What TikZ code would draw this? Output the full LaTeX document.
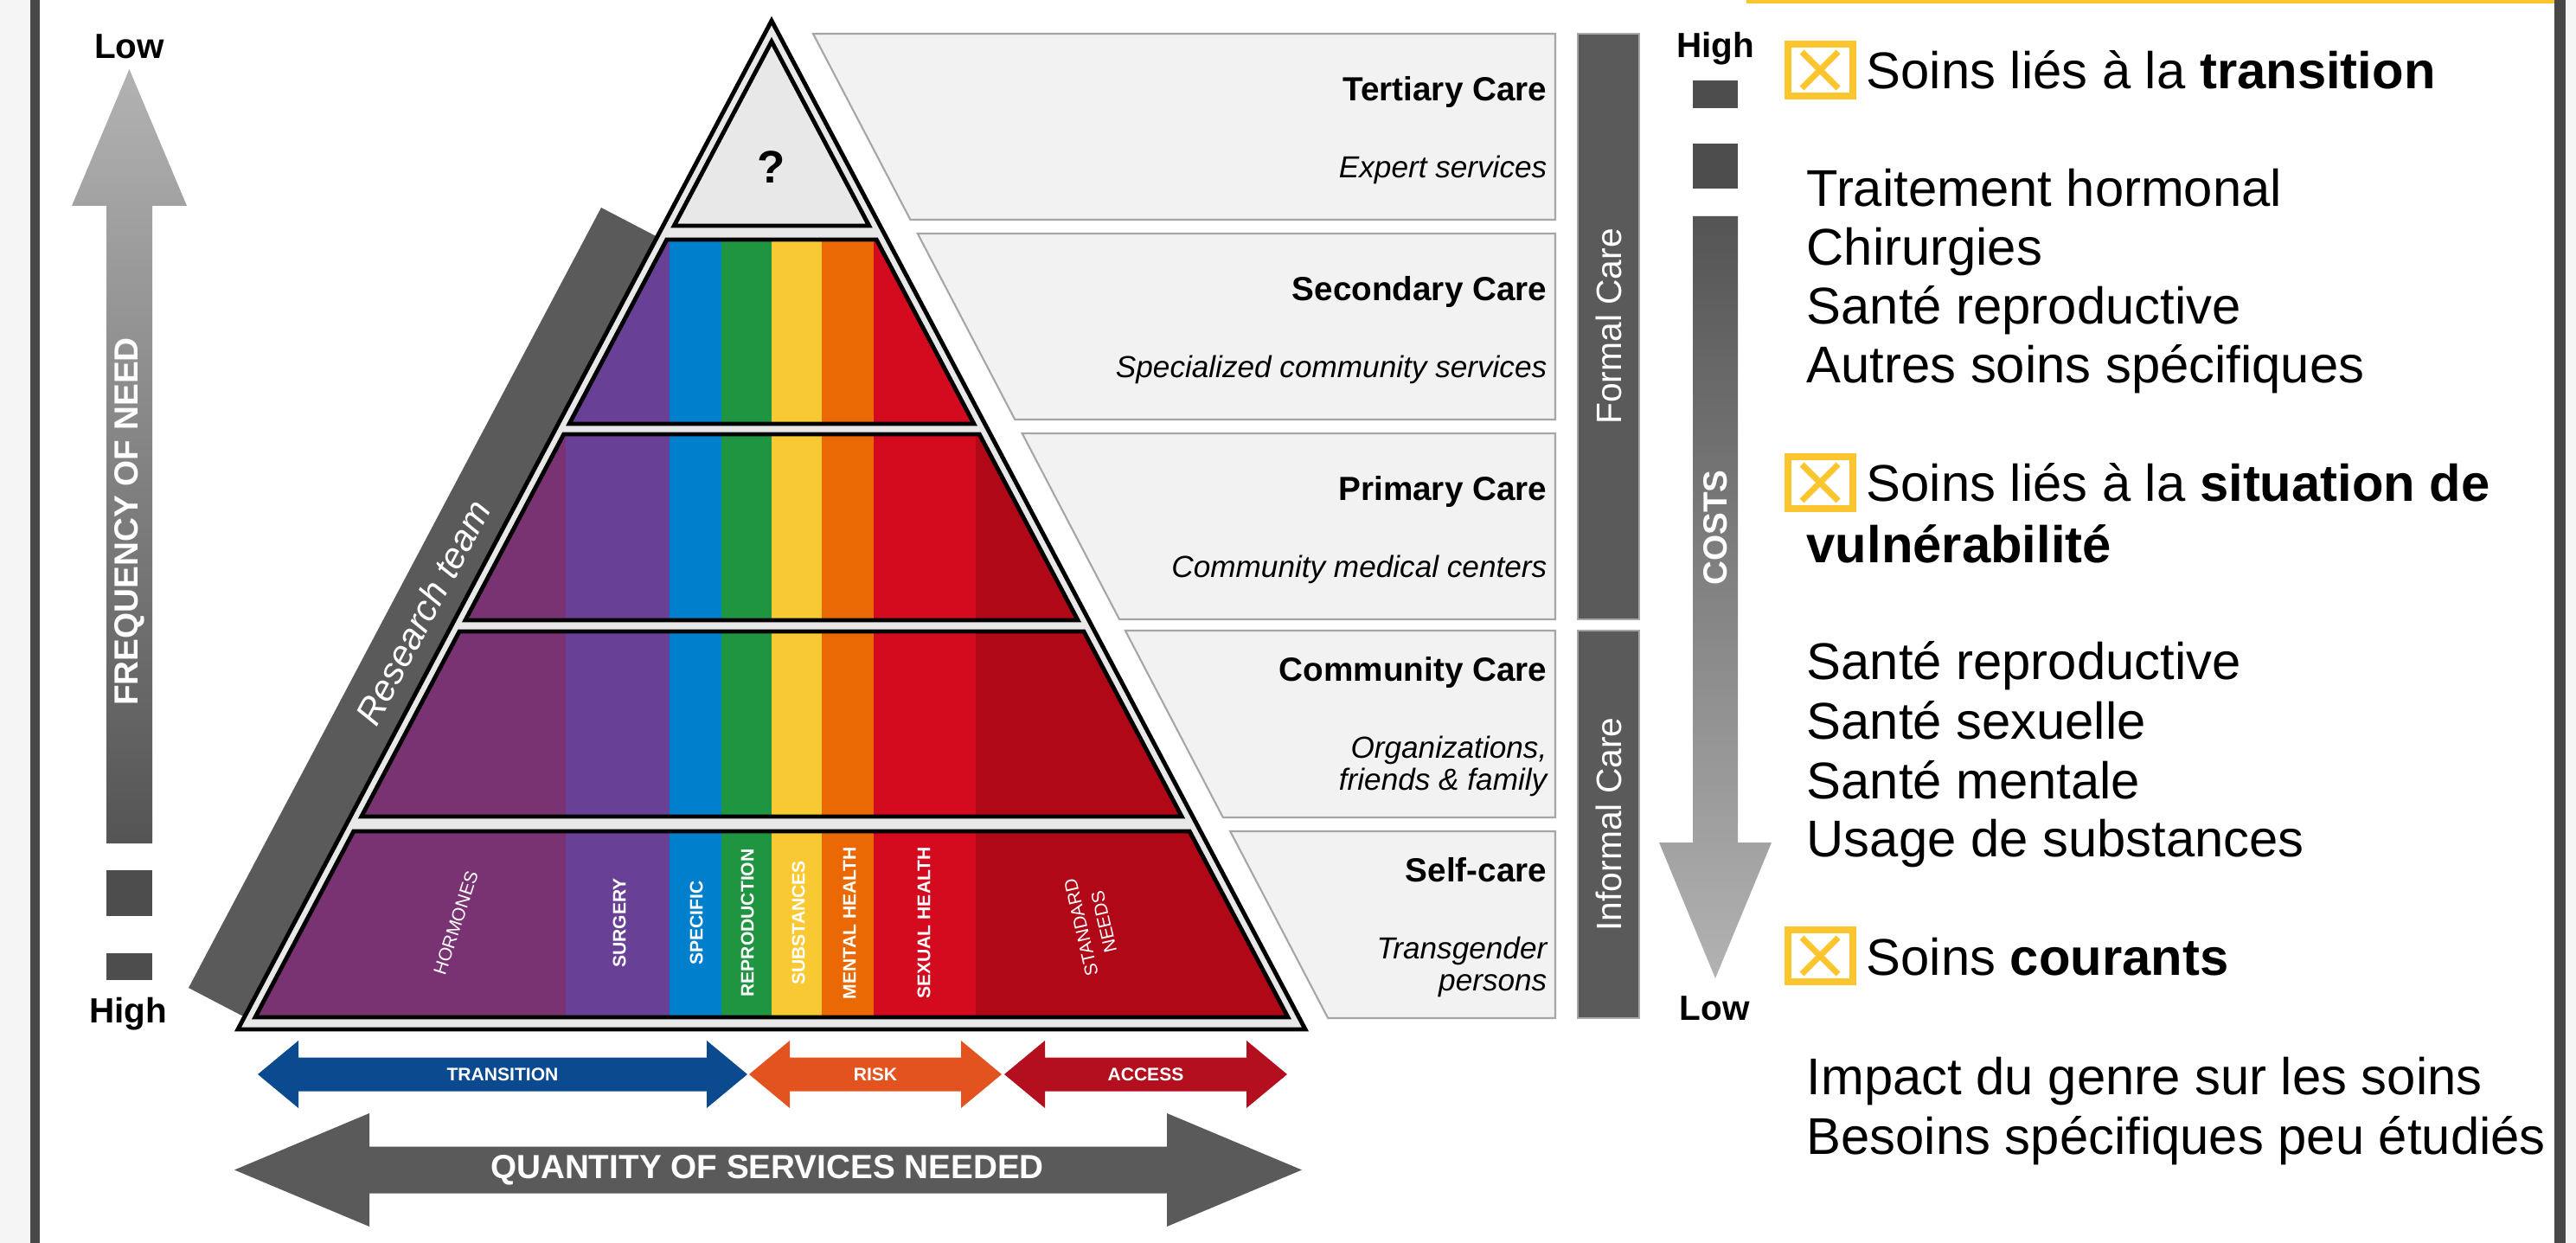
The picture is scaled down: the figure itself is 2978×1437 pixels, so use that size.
\documentclass[tikz,border=0pt]{standalone}
\usepackage{fontspec}
\setmainfont{Liberation Sans}
\usepackage{xcolor}
\usepackage{tikz}
\usetikzlibrary{positioning}

\definecolor{hormcol}{HTML}{7A3372}
\definecolor{surgcol}{HTML}{684096}
\definecolor{specol}{HTML}{0080CC}
\definecolor{repcol}{HTML}{1F9441}
\definecolor{subcol}{HTML}{F9C933}
\definecolor{mentcol}{HTML}{EB6904}
\definecolor{sexcol}{HTML}{D40A1F}
\definecolor{stdcol}{HTML}{B10818}
\definecolor{pyrgray}{HTML}{E8E8E8}
\definecolor{boxgray}{HTML}{F2F2F2}
\definecolor{boxline}{HTML}{A6A6A6}
\definecolor{bargray}{HTML}{5A5A5A}
\definecolor{dashgray}{HTML}{4D4D4D}
\definecolor{framegray}{HTML}{484848}
\definecolor{sidegray}{HTML}{F5F5F5}
\definecolor{transcol}{HTML}{0B4A8E}
\definecolor{riskcol}{HTML}{E2531F}
\definecolor{accesscol}{HTML}{B30F1F}
\definecolor{tickyellow}{HTML}{FBC52F}

\newcommand{\crossbox}[1]{%
  \draw[tickyellow, line width=2.3pt] (2067,#1-52) rectangle (2142,#1+8);
  \draw[tickyellow, line width=2pt] (2083,#1-43) -- (2125,#1-1) (2083,#1-1) -- (2125,#1-43);
}

\begin{document}
\begin{tikzpicture}[x=0.01cm, y=-0.01cm,
    band/.style={draw=black, line width=1.4pt},
    carebox/.style={fill=boxgray, draw=boxline, line width=0.6pt},
    caretitle/.style={anchor=base east, inner sep=0pt, font=\fontsize{11}{13}\selectfont\bfseries},
    caresub/.style={anchor=east, inner sep=0pt, align=right, font=\fontsize{10}{10.7}\selectfont\itshape},
    sidelabel/.style={text=white, rotate=90, font=\fontsize{11.6}{14}\selectfont},
    scalelabel/.style={anchor=base, font=\fontsize{11.5}{14}\selectfont\bfseries},
    axislabel/.style={text=white, rotate=90, font=\fontsize{11}{13}\selectfont\bfseries},
    collabel/.style={text=white, rotate=90, font=\fontsize{6}{7.7}\selectfont\bfseries},
    arrowlabel/.style={text=white, font=\fontsize{6}{7}\selectfont\bfseries},
    panel/.style={anchor=base west, inner sep=0pt, font=\fontsize{17}{19.5}\selectfont}]

  \useasboundingbox (0,0) rectangle (2978,1437);
  \fill[white] (0,0) rectangle (2978,1437);
  \fill[sidegray] (0,0) rectangle (35,1437);
  \fill[framegray] (35,0) rectangle (46,1437);
  \fill[framegray] (2953,0) rectangle (2966,1437);
  \fill[sidegray] (2966,0) rectangle (2978,1437);
  \fill[tickyellow] (2019,0) rectangle (2953,4);

  % research team
  \fill[bargray] (695,240) -- (764,276) -- (287,1178) -- (218,1142) -- cycle;
  \node[text=white, rotate=62.1, font=\fontsize{12}{14}\selectfont\itshape] (team) at (488.8,707.8) {Research team};

  % pyramid
  \draw[band, fill=pyrgray] (892,24) -- (1509,1190) -- (275,1190) -- cycle;
  \draw[band, fill=pyrgray] (892,48) -- (1004.7,261) -- (779.3,261) -- cycle;
  \node[font=\fontsize{15}{18}\selectfont\bfseries] (top) at (892,193) {?};
  \foreach \yt/\yb in {277/490, 502/717, 730/944, 961/1176} {
    \begin{scope}
      \clip ({892-0.5292*(\yt-48)},\yt) -- ({892+0.5292*(\yt-48)},\yt) -- ({892+0.5292*(\yb-48)},\yb) -- ({892-0.5292*(\yb-48)},\yb) -- cycle;
      \foreach \xa/\xb/\col in {250/654/hormcol, 654/774/surgcol, 774/834/specol, 834/892/repcol, 892/950/subcol, 950/1010/mentcol, 1010/1128/sexcol, 1128/1550/stdcol}
        \fill[\col] (\xa,\yt) rectangle (\xb,\yb);
    \end{scope}
    \draw[band] ({892-0.5292*(\yt-48)},\yt) -- ({892+0.5292*(\yt-48)},\yt) -- ({892+0.5292*(\yb-48)},\yb) -- ({892-0.5292*(\yb-48)},\yb) -- cycle;
  }
  \node[collabel, rotate=-18, font=\fontsize{6}{7.7}\selectfont] (hor) at (527,1067) {HORMONES};
  \foreach \x/\lbl/\nm in {716/SURGERY/sur, 805/SPECIFIC/spe, 864/REPRODUCTION/rep, 923/SUBSTANCES/sub, 982/MENTAL HEALTH/men, 1068/SEXUAL HEALTH/sex}
    \node[collabel] (\nm) at (\x,1067) {\lbl};
  \node[collabel, rotate=13, align=center, font=\fontsize{6}{7.7}\selectfont] (std) at (1263,1069) {STANDARD\\NEEDS};

  % care levels
  \foreach \yt/\yb/\tb/\ti/\su [count=\i] in {
      39/254/78/Tertiary Care/Expert services,
      270/485/78/Secondary Care/Specialized community services,
      501/716/78/Primary Care/Community medical centers,
      729/945/59/Community Care/{Organizations,\\friends \& family},
      961/1177/58/Self-care/{Transgender\\persons}} {
    \draw[carebox] ({940+0.523*(\yt-39)},\yt) -- (1798,\yt) -- (1798,\yb) -- ({940+0.523*(\yb-39)},\yb) -- cycle;
    \node[caretitle] (title\i) at (1789,\yt+\tb) {\ti};
    \node[caresub] (sub\i) at (1789,\yt+157) {\su};
  }
  \draw[fill=bargray, draw=boxline, line width=0.4pt] (1824,39) rectangle (1895,716);
  \draw[fill=bargray, draw=boxline, line width=0.4pt] (1824,729) rectangle (1895,1177);
  \node[sidelabel] (formal) at (1859.5,377.5) {Formal Care};
  \node[sidelabel] (informal) at (1859.5,953) {Informal Care};

  % costs
  \fill[dashgray] (1957,93) rectangle (2009,125);
  \fill[dashgray] (1957,166) rectangle (2009,218);
  \shade[top color=black!67, bottom color=black!30] (1957,250) -- (2009,250) -- (2009,974) -- (2048,974) -- (1983,1131) -- (1918,974) -- (1957,974) -- cycle;
  \node[axislabel] (costs) at (1983,610) {COSTS};
  \node[scalelabel] (highr) at (1983,67) {High};
  \node[scalelabel] (lowr) at (1982,1179) {Low};

  % frequency
  \shade[top color=black!30, bottom color=black!67] (149.5,80) -- (216,238) -- (176,238) -- (176,975) -- (123,975) -- (123,238) -- (83,238) -- cycle;
  \fill[dashgray] (123,1006) rectangle (176,1059);
  \fill[dashgray] (123,1102) rectangle (176,1133);
  \node[axislabel] (freq) at (149.5,603) {FREQUENCY OF NEED};
  \node[scalelabel] (lowl) at (149.5,68) {Low};
  \node[scalelabel] (highl) at (148,1182) {High};

  % bottom arrows
  \foreach \xa/\xb/\col/\lbl/\nm in {298/864/transcol/TRANSITION/trans, 866/1158/riskcol/RISK/risk, 1161/1488/accesscol/ACCESS/access} {
    \fill[\col] (\xa,1242) -- ({\xa+47},1203) -- ({\xa+47},1222.5) -- ({\xb-47},1222.5) -- ({\xb-47},1203) -- (\xb,1242) -- ({\xb-47},1281) -- ({\xb-47},1261.5) -- ({\xa+47},1261.5) -- ({\xa+47},1281) -- cycle;
    \node[arrowlabel] (\nm) at ({(\xa+\xb)/2},1242) {\lbl};
  }
  \fill[bargray] (271,1352.5) -- (427,1287) -- (427,1325.5) -- (1349,1325.5) -- (1349,1287) -- (1505,1352.5) -- (1349,1418) -- (1349,1379.5) -- (427,1379.5) -- (427,1418) -- cycle;
  \node[arrowlabel, font=\fontsize{11}{13}\selectfont\bfseries] (qty) at (887,1353) {QUANTITY OF SERVICES NEEDED};

  % right panel
  \crossbox{103}
  \node[panel] (head1) at (2157,103) {Soins liés à la \textbf{transition}};
  \crossbox{580}
  \node[panel] (head2) at (2157,580) {Soins liés à la \textbf{situation de}};
  \node[panel, font=\fontsize{17}{19.5}\selectfont\bfseries] (head2b) at (2088,651) {vulnérabilité};
  \crossbox{1127}
  \node[panel] (head3) at (2157,1127) {Soins \textbf{courants}};
  \foreach \yb/\txt [count=\i] in {239/Traitement hormonal, 307/Chirurgies, 375/Santé reproductive, 443/Autres soins spécifiques, 786/Santé reproductive, 855/Santé sexuelle, 923/Santé mentale, 991/Usage de substances, 1265/Impact du genre sur les soins, 1334/Besoins spécifiques peu étudiés}
    \node[panel] (line\i) at (2088,\yb) {\txt};
\end{tikzpicture}
\end{document}
